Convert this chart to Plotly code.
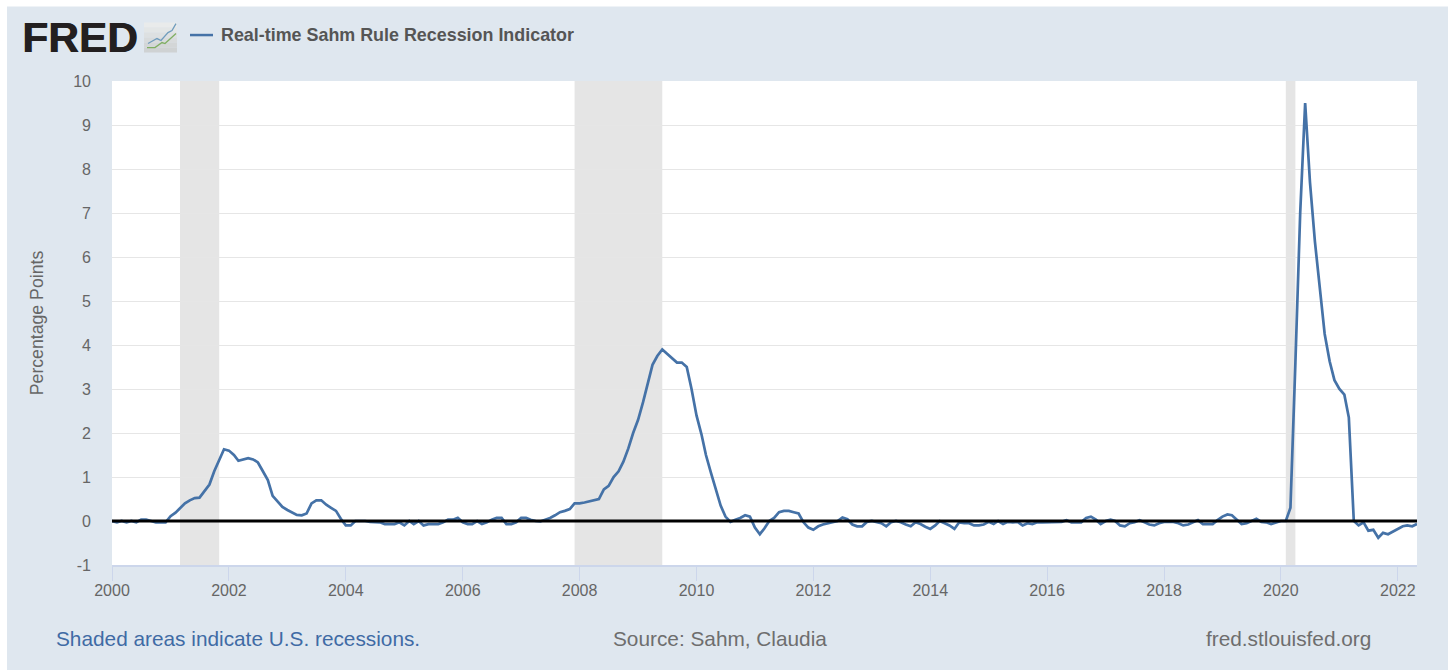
import plotly.graph_objects as go
import pandas as pd

start_month = "2000-01-01"
sahm = [
 0,-0.03,0,-0.03,0,-0.03,0.03,0.03,0,-0.03,-0.03,-0.03,
 0.11,0.19,0.29,0.4,0.47,0.52,0.53,0.67,0.83,1.13,1.4,1.63,
 1.6,1.5,1.37,1.4,1.43,1.4,1.33,1.13,0.93,0.57,0.43,0.32,
 0.25,0.2,0.14,0.13,0.17,0.4,0.47,0.47,0.37,0.3,0.23,0.05,
 -0.1,-0.1,0,0,0,-0.02,-0.03,-0.03,-0.07,-0.07,-0.07,-0.03,
 -0.1,0,-0.07,0,-0.1,-0.07,-0.07,-0.07,-0.03,0.03,0.03,0.07,
 -0.03,-0.07,-0.07,0,-0.07,-0.03,0.03,0.07,0.07,-0.07,-0.07,-0.03,
 0.07,0.07,0.03,0,-0.01,0.03,0.07,0.13,0.2,0.23,0.27,0.4,
 0.4,0.42,0.45,0.48,0.5,0.72,0.8,1.0,1.13,1.35,1.65,2.0,
 2.3,2.7,3.1,3.55,3.75,3.9,3.8,3.7,3.6,3.6,3.5,3.0,
 2.4,1.97,1.5,1.1,0.7,0.35,0.1,-0.02,0.03,0.07,0.13,0.1,
 -0.15,-0.3,-0.17,0,0.07,0.2,0.23,0.23,0.2,0.17,-0.03,-0.15,
 -0.2,-0.12,-0.08,-0.05,-0.02,0,0.08,0.04,-0.08,-0.12,-0.12,-0.02,
 0,-0.02,-0.05,-0.12,-0.03,0,-0.03,-0.08,-0.12,-0.03,-0.07,-0.13,
 -0.18,-0.1,0,-0.05,-0.1,-0.18,-0.03,-0.05,-0.05,-0.1,-0.1,-0.08,
 -0.02,-0.07,0,-0.07,-0.02,-0.03,-0.02,-0.1,-0.05,-0.07,-0.03,-0.03,
 -0.03,-0.03,-0.03,-0.02,0.02,-0.03,-0.03,-0.03,0.07,0.1,0.03,-0.07,
 0,0.03,0,-0.1,-0.12,-0.05,-0.03,0.02,-0.03,-0.08,-0.1,-0.05,
 -0.02,-0.02,-0.02,-0.05,-0.1,-0.08,-0.03,0.02,-0.07,-0.07,-0.07,0.02,
 0.1,0.15,0.13,0.03,-0.07,-0.05,0,0.05,-0.02,-0.03,-0.07,-0.03,
 0,0,0.3,3.6,7.0,9.5,7.7,6.35,5.3,4.25,3.63,3.2,
 3.0,2.87,2.35,0,-0.1,-0.03,-0.22,-0.2,-0.38,-0.27,-0.3,-0.24,
 -0.18,-0.12,-0.1,-0.12,-0.07,
]
months = pd.date_range(start_month, periods=len(sahm), freq="MS")
recession_starts = ["2001-03-01", "2007-12-01", "2020-02-01"]
recession_ends = ["2001-11-01", "2009-06-01", "2020-04-01"]
y_ticks = list(range(-1, 11))
x_tick_years = list(range(2000, 2023, 2))
series_name = "Real-time Sahm Rule Recession Indicator"
y_title = "Percentage Points"

W, H = 1448, 670
L, R, T, B = 112, 1417, 80.5, 565
panel = "#dfe7ef"
line_blue = "#4572a7"


def px(v):
    return (v - L) / (R - L)


def py(v):
    return (B - v) / (B - T)


def poly(pts):
    return "M" + "L".join(f"{px(a)},{py(b)}" for a, b in pts)


fig = go.Figure()
fig.add_trace(go.Scatter(x=months, y=sahm, mode="lines", name=series_name,
                         line=dict(color=line_blue, width=2.7), showlegend=False))

shapes = [
    dict(type="rect", xref="paper", yref="paper", layer="below",
         x0=px(7), x1=px(1448), y0=py(670), y1=py(6), line_width=0, fillcolor=panel),
    dict(type="rect", xref="paper", yref="paper", layer="below",
         x0=0, x1=1, y0=0, y1=1, line_width=0, fillcolor="#ffffff"),
]
for a, b in zip(recession_starts, recession_ends):
    shapes.append(dict(type="rect", xref="x", yref="paper", x0=a, x1=b, y0=0, y1=1,
                       fillcolor="#e5e5e5", line_width=0, layer="below"))
shapes.append(dict(type="line", xref="paper", yref="y", x0=0, x1=1, y0=0, y1=0,
                   line=dict(color="#000000", width=3), layer="above"))
# legend sample
shapes.append(dict(type="line", xref="paper", yref="paper", x0=px(190), x1=px(213), y0=py(34.5), y1=py(34.5),
                   line=dict(color=line_blue, width=2.5)))
# logo icon: a grey tile fading downward, with two small lines
tile = ["#e9ebeb", "#e3e6e6", "#dde0e1", "#d8dbdc", "#d3d6d7", "#cfd2d3"]
for i, c in enumerate(tile):
    shapes.append(dict(type="rect", xref="paper", yref="paper",
                       x0=px(144), x1=px(177), y0=py(22 + 5 * (i + 1)), y1=py(22 + 5 * i),
                       fillcolor=c, line_width=0))
shapes.append(dict(type="path", xref="paper", yref="paper",
                   path=poly([(148, 43), (157, 38), (161, 40), (168, 32), (172, 30), (176, 23)]),
                   line=dict(color="#6f9cbd", width=1.3)))
shapes.append(dict(type="path", xref="paper", yref="paper",
                   path=poly([(147, 47), (155, 47), (162, 42), (165, 43), (176, 33)]),
                   line=dict(color="#7fae62", width=1.3)))
fig.update_layout(shapes=shapes)


def text(x, y, s, size, color, anchor="left", **font_kw):
    fig.add_annotation(xref="paper", yref="paper", x=px(x), y=py(y), text=s, showarrow=False,
                       xanchor=anchor, yanchor="middle",
                       font=dict(size=size, color=color, family="Liberation Sans", **font_kw))


text(19.5, 37, "<b>FRED</b>", 42.5, "#231f20", shadow="0.7px 0 0 #231f20")
text(219, 34.5, "<b>" + series_name + "</b>", 17.9, "#555555")
text(54, 639, "Shaded areas indicate U.S. recessions.", 20.8, "#3f6ba5")
text(719.5, 639, "Source: Sahm, Claudia", 20.8, "#6e6e6e", anchor="center")
text(1373, 639, "fred.stlouisfed.org", 20.8, "#6e6e6e", anchor="right")

fig.update_layout(
    width=W, height=H, autosize=False, paper_bgcolor="#ffffff", plot_bgcolor="rgba(0,0,0,0)",
    margin=dict(l=L, r=W - R, t=T, b=H - B), showlegend=False,
    font=dict(family="Liberation Sans", color="#666666", size=16),
    xaxis=dict(type="date", range=[months[0], months[-1]],
               tickmode="array", tickvals=[f"{y}-01-01" for y in x_tick_years],
               ticktext=[str(y) for y in x_tick_years],
               ticks="outside", ticklen=14, tickwidth=1, tickcolor="#ccd6eb",
               showline=True, linecolor="#ccd6eb", linewidth=1.5, showgrid=False,
               ticklabelstandoff=-4,
               tickangle=0, tickfont=dict(size=16, color="#666666"), zeroline=False),
    yaxis=dict(range=[-1, 10], tickmode="array", tickvals=y_ticks, ticktext=[str(v) for v in y_ticks],
               showgrid=True, gridcolor="#e6e6e6", gridwidth=1, zeroline=False,
               ticks="", ticklabelstandoff=20, tickfont=dict(size=16, color="#666666"),
               title=dict(text=y_title, font=dict(size=17.7, color="#666666"), standoff=25)),
)
fig.write_html("out.html", config={"displayModeBar": False},
               post_script="document.body.style.margin='0';document.body.style.overflow='hidden';")
